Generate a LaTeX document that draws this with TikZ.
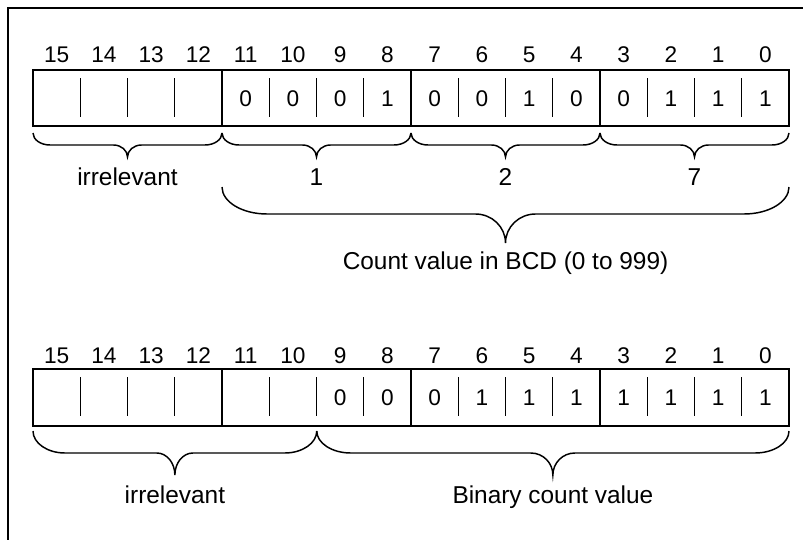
\documentclass[tikz,border=0pt]{standalone}
\usepackage{fontspec}
\setmainfont{Liberation Sans}
\newcommand\mybrace[7]{%
  \pgfmathsetmacro\bxm{(#1+#2)/2}%
  \draw[bracestyle] (#1,#3) .. controls (#1,{#3+0.552*(#4-#3)}) and ({#1+0.448*#6},#4) .. ({#1+#6},#4)
    -- ({\bxm-#7},#4) .. controls ({\bxm-0.448*#7},#4) and (\bxm,{#4+0.448*(#5-#4)}) .. (\bxm,#5)
    .. controls (\bxm,{#4+0.448*(#5-#4)}) and ({\bxm+0.448*#7},#4) .. ({\bxm+#7},#4)
    -- ({#2-#6},#4) .. controls ({#2-0.448*#6},#4) and (#2,{#3+0.552*(#4-#3)}) .. (#2,#3);
}
\begin{document}
\begin{tikzpicture}[x=0.75pt,y=-0.75pt,
  numtext/.style={font=\fontsize{17}{20}\selectfont, anchor=base, inner sep=0pt},
  labtext/.style={font=\fontsize{18.3}{21}\selectfont, anchor=base, inner sep=0pt},
  regbox/.style={line width=1.1pt},
  groupdiv/.style={line width=1.5pt},
  minordiv/.style={line width=0.9pt},
  bracestyle/.style={line width=1.1pt},
  framestyle/.style={line width=1.6pt}]
\useasboundingbox (0,0) rectangle (803,539);
% frame (only top and left visible)
\draw[framestyle] (8,545) -- (8,8) -- (810,8);

% ---------- top register ----------
\draw[regbox] (33,70) rectangle (789,126);
\foreach \k in {4,8,12} \draw[groupdiv] ({33+47.25*\k},70) -- ({33+47.25*\k},126);
\foreach \k in {1,2,3,5,6,7,9,10,11,13,14,15} \draw[minordiv] ({33+47.25*\k},78) -- ({33+47.25*\k},117);
\foreach \k in {0,...,15} {
  \pgfmathtruncatemacro\bit{15-\k}
  \node[numtext] (tb\k) at ({33+47.25*(\k+0.5)},62.7) {\bit};
}
\foreach \k/\v in {4/0,5/0,6/0,7/1,8/0,9/0,10/1,11/0,12/0,13/1,14/1,15/1}
  \node[numtext] (tv\k) at ({33+47.25*(\k+0.5)},106) {\v};

\mybrace{33}{222}{133}{145}{157}{17}{14}
\mybrace{222}{411}{133}{145}{157}{17}{14}
\mybrace{411}{600}{133}{145}{157}{17}{14}
\mybrace{600}{789}{133}{145}{157}{17}{14}
\node[labtext] (irr1) at (127.5,185.7) {irrelevant};
\node[labtext] (d1) at (316.5,185.7) {1};
\node[labtext] (d2) at (505.5,185.7) {2};
\node[labtext] (d7) at (694.5,185.7) {7};
\mybrace{222}{789}{187}{214}{243}{45}{30}
\node[labtext] (bcd) at (505.5,269.5) {Count value in BCD (0 to 999)};

% ---------- bottom register ----------
\draw[regbox] (33,369) rectangle (789,426);
\foreach \k in {4,8,12} \draw[groupdiv] ({33+47.25*\k},369) -- ({33+47.25*\k},426);
\foreach \k in {1,2,3,5,6,7,9,10,11,13,14,15} \draw[minordiv] ({33+47.25*\k},377) -- ({33+47.25*\k},416);
\foreach \k in {0,...,15} {
  \pgfmathtruncatemacro\bit{15-\k}
  \node[numtext] (bb\k) at ({33+47.25*(\k+0.5)},363.3) {\bit};
}
\foreach \k/\v in {6/0,7/0,8/0,9/1,10/1,11/1,12/1,13/1,14/1,15/1}
  \node[numtext] (bv\k) at ({33+47.25*(\k+0.5)},405.5) {\v};

\mybrace{33}{316.75}{431}{453}{475}{32}{18}
\mybrace{316.75}{789}{431}{453}{475}{34}{22}
\node[labtext] (irr2) at (174.9,503.5) {irrelevant};
\node[labtext] (bin) at (552.9,503.5) {Binary count value};
\end{tikzpicture}
\end{document}
